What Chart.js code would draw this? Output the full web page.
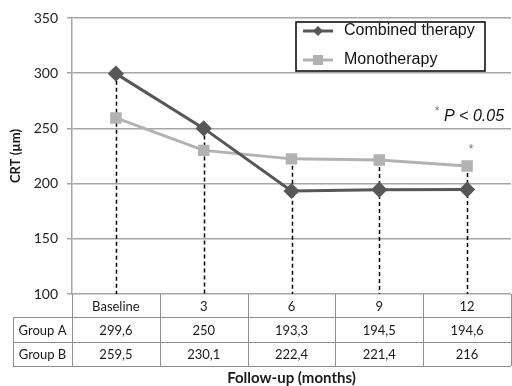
<!DOCTYPE html>
<html>
<head>
<meta charset="utf-8">
<script src="https://cdn.jsdelivr.net/npm/chart.js@4.4.1/dist/chart.umd.min.js"></script>
<style>
  html, body { margin: 0; padding: 0; background: #fff; overflow: hidden; }
  #wrap { width: 520px; height: 386px; }
</style>
</head>
<body>
<div id="wrap"><canvas id="myChart" width="520" height="386"></canvas></div>
<script>
const categories = ['Baseline', '3', '6', '9', '12'];
const rowLabels = ['Group A', 'Group B'];
const combined = [299.6, 250, 193.3, 194.5, 194.6];
const mono = [259.5, 230.1, 222.4, 221.4, 216];
const seriesNames = ['Combined therapy', 'Monotherapy'];
const yMin = 100, yMax = 350, yStep = 50;

const fmt = v => String(v).replace('.', ',');
const tableFont = '13px Lato, "Open Sans", sans-serif';

const overlay = {
  id: 'overlay',
  beforeDatasetsDraw: (chart) => {
    const ctx = chart.ctx;
    const xs = chart.scales.x, ys = chart.scales.y;
    const bottom = chart.chartArea.bottom;
    ctx.save();
    ctx.strokeStyle = '#000';
    ctx.lineWidth = 1.5;
    ctx.setLineDash([4, 3]);
    for (let i = 0; i < categories.length; i++) {
      const top = Math.max(combined[i], mono[i]);
      const x = Math.round(xs.getPixelForValue(i)) + 0.5;
      ctx.beginPath();
      ctx.moveTo(x, ys.getPixelForValue(top));
      ctx.lineTo(x, bottom);
      ctx.stroke();
    }
    ctx.restore();
  },
  afterDraw: (chart) => {
    const ctx = chart.ctx;
    const xs = chart.scales.x, ys = chart.scales.y;
    const {left, right, bottom} = chart.chartArea;
    const half = (xs.getPixelForValue(1) - xs.getPixelForValue(0)) / 2;
    const rowY = [bottom, 317, 342, 366];
    const tableLeft = 13;

    // table grid
    ctx.save();
    ctx.strokeStyle = '#8f8f8f';
    ctx.lineWidth = 1;
    ctx.beginPath();
    for (let r = 1; r < rowY.length; r++) {
      ctx.moveTo(tableLeft, rowY[r] + 0.5);
      ctx.lineTo(right, rowY[r] + 0.5);
    }
    ctx.moveTo(tableLeft + 0.5, rowY[1]);
    ctx.lineTo(tableLeft + 0.5, rowY[3]);
    for (let i = 0; i <= categories.length; i++) {
      const x = Math.round(xs.getPixelForValue(i) - half) + 0.5;
      ctx.moveTo(x, rowY[0]);
      ctx.lineTo(x, rowY[3]);
    }
    ctx.stroke();

    // table text
    ctx.fillStyle = '#1a1a1a';
    ctx.font = tableFont;
    ctx.textAlign = 'center';
    ctx.textBaseline = 'middle';
    const rows = [categories, combined.map(fmt), mono.map(fmt)];
    rows.forEach((row, r) => {
      const cy = (rowY[r] + rowY[r + 1]) / 2 + 1;
      row.forEach((t, i) => ctx.fillText(t, xs.getPixelForValue(i), cy));
    });
    rowLabels.forEach((t, r) => {
      ctx.fillText(t, (tableLeft + left) / 2, (rowY[r + 1] + rowY[r + 2]) / 2 + 1);
    });

    // x axis title
    ctx.font = 'bold 15px Lato, "Open Sans", sans-serif';
    ctx.fillText('Follow-up (months)', (left + right) / 2, 378);

    // legend
    ctx.fillStyle = '#fff';
    ctx.fillRect(296, 22, 189, 49);
    ctx.strokeStyle = '#000';
    ctx.lineWidth = 1.5;
    ctx.strokeRect(296, 22, 189, 49);
    const ly = [31, 60];
    chart.data.datasets.forEach((ds, k) => {
      ctx.strokeStyle = ds.borderColor;
      ctx.lineWidth = 3;
      ctx.beginPath();
      ctx.moveTo(303, ly[k]);
      ctx.lineTo(333, ly[k]);
      ctx.stroke();
      ctx.fillStyle = ds.borderColor;
      ctx.beginPath();
      if (ds.pointStyle === 'rectRot') {
        ctx.moveTo(318, ly[k] - 5); ctx.lineTo(323, ly[k]);
        ctx.lineTo(318, ly[k] + 5); ctx.lineTo(313, ly[k]);
      } else {
        ctx.rect(313, ly[k] - 5, 10, 10);
      }
      ctx.fill();
      ctx.fillStyle = '#111';
      ctx.font = '16px "Liberation Sans", Arial, sans-serif';
      ctx.textAlign = 'left';
      ctx.fillText(ds.label, 344, ly[k]);
    });

    // significance note
    ctx.fillStyle = '#777';
    ctx.font = '12px "Liberation Sans", Arial, sans-serif';
    ctx.textAlign = 'center';
    ctx.fillText('*', 437, 112);
    ctx.fillText('*', xs.getPixelForValue(4) + 4, ys.getPixelForValue(mono[4]) - 16);
    ctx.fillStyle = '#111';
    ctx.font = 'italic 16px "Liberation Sans", Arial, sans-serif';
    ctx.textAlign = 'left';
    ctx.fillText('P < 0.05', 444, 117);
    ctx.restore();
  }
};

const config = {
  type: 'line',
  data: {
    labels: categories,
    datasets: [
      {
        label: seriesNames[0],
        data: combined,
        borderColor: '#575757',
        backgroundColor: '#575757',
        borderWidth: 3,
        pointStyle: 'rectRot',
        pointRadius: 6,
        tension: 0
      },
      {
        label: seriesNames[1],
        data: mono,
        borderColor: '#b2b2b2',
        backgroundColor: '#b2b2b2',
        borderWidth: 3,
        pointStyle: 'rect',
        pointRadius: 6,
        tension: 0
      }
    ]
  },
  options: {
    responsive: false,
    animation: false,
    devicePixelRatio: 1,
    layout: { padding: { left: 0, top: 18, right: 4, bottom: 92 } },
    plugins: {
      legend: { display: false },
      tooltip: { enabled: false }
    },
    scales: {
      x: {
        type: 'category',
        offset: true,
        display: false
      },
      y: {
        min: yMin,
        max: yMax,
        ticks: {
          stepSize: yStep,
          color: '#222',
          padding: 9,
          font: { family: 'Lato, "Open Sans", sans-serif', size: 14 }
        },
        grid: {
          color: '#a6a6a6',
          lineWidth: 1.5,
          tickLength: 5
        },
        border: { color: '#a6a6a6', width: 1.5 },
        title: {
          display: true,
          text: 'CRT (µm)',
          color: '#1a1a1a',
          padding: { top: 8, bottom: 0 },
          font: { family: 'Lato, "Open Sans", sans-serif', size: 13, weight: 'bold' }
        },
        afterFit: (scale) => { scale.width = 72; }
      }
    }
  },
  plugins: [overlay]
};

const myChart = new Chart(document.getElementById('myChart').getContext('2d'), config);
</script>
</body>
</html>
